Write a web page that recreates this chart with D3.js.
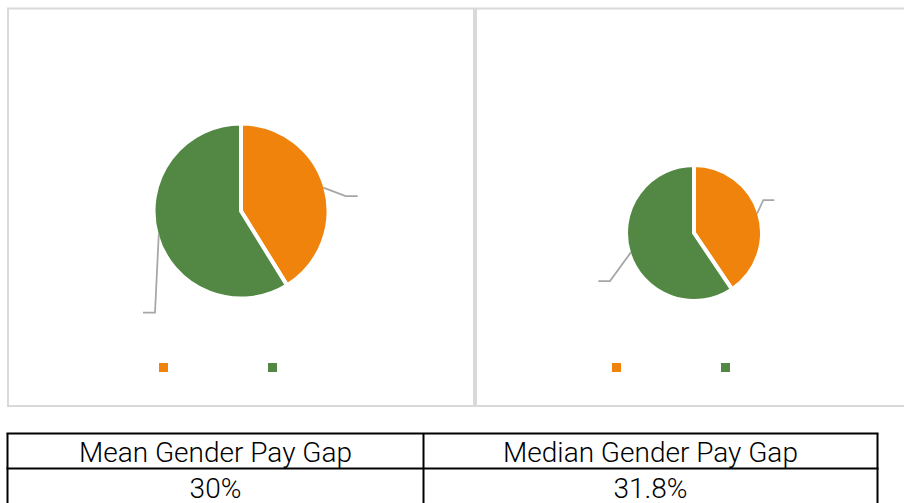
<!DOCTYPE html>
<html>
<head>
<meta charset="utf-8">
<script src="https://cdn.jsdelivr.net/npm/d3@7"></script>
<style>
  html, body { margin: 0; padding: 0; background: #fff; }
  svg { display: block; }
</style>
</head>
<body>
<svg id="chart" width="904" height="503"></svg>
<script>
// pay split per pie (women earn this much per 100 earned by men)
const categories = ['Women', 'Men'];
const meanValues = [70, 100];
const medianValues = [68.2, 100];
const gapLabels = ['Mean Gender Pay Gap', 'Median Gender Pay Gap'];
const gapValues = ['30%', '31.8%'];

const colors = d3.scaleOrdinal().domain(categories).range(['#F0830C', '#528844']);

// where the (empty) data labels sit, relative to pie centre
const labelSpots = [
  [[104.7, -15, 12], [-86, 101.7, -12]],
  [[69.3, -33, 11], [-84, 48, -11.7]]
];

const panels = [
  {x: 8, y: 8.5, w: 466, h: 397.5, cx: 241, cy: 211, r: 85.5, values: meanValues, legendX: 159},
  {x: 476, y: 8.5, w: 440, h: 397.5, cx: 694, cy: 233, r: 66, values: medianValues, legendX: 612}
];

const svg = d3.select('#chart');
const pie = d3.pie().sort(null).value(d => d);

panels.forEach((p, pi) => {
  const g = svg.append('g');

  g.append('rect')
    .attr('x', p.x).attr('y', p.y)
    .attr('width', p.w).attr('height', p.h)
    .attr('fill', '#fff')
    .attr('stroke', '#D9D9D9')
    .attr('stroke-width', 2);

  const arc = d3.arc().innerRadius(0).outerRadius(p.r + 2);
  const edge = d3.arc().innerRadius(p.r).outerRadius(p.r);
  const slices = pie(p.values);

  const pieG = g.append('g').attr('transform', 'translate(' + p.cx + ',' + p.cy + ')');

  pieG.selectAll('path.slice')
    .data(slices)
    .enter()
    .append('path')
    .attr('class', 'slice')
    .attr('d', arc)
    .attr('fill', (d, i) => colors(categories[i]))
    .attr('stroke', '#fff')
    .attr('stroke-width', 4)
    .attr('stroke-linejoin', 'round');

  pieG.selectAll('path.leader')
    .data(slices)
    .enter()
    .append('path')
    .attr('class', 'leader')
    .attr('fill', 'none')
    .attr('stroke', '#A6A6A6')
    .attr('stroke-width', 1.75)
    .attr('d', (d, i) => {
      const s = edge.centroid(d);
      const e = labelSpots[pi][i];
      return 'M' + s[0] + ',' + s[1] + ' L' + e[0] + ',' + e[1] + ' L' + (e[0] + e[2]) + ',' + e[1];
    });

  // legend swatches (legend text is blank in the source)
  g.selectAll('rect.swatch')
    .data(categories)
    .enter()
    .append('rect')
    .attr('class', 'swatch')
    .attr('x', (d, i) => p.legendX + i * 109)
    .attr('y', 363)
    .attr('width', 9)
    .attr('height', 9)
    .attr('fill', d => colors(d));
});

// table under the charts
const tableX = 7.5, tableR = 877.5, colSplit = 423.5;
const rowTop = 433.5, rowMid = 468.5, rowBot = 505;
const cols = [[tableX, colSplit], [colSplit, tableR]];

const tbl = svg.append('g')
  .attr('stroke', '#000')
  .attr('stroke-width', 2);

[rowTop, rowMid, rowBot].forEach(y => {
  tbl.append('line').attr('x1', tableX - 1).attr('x2', tableR + 1).attr('y1', y).attr('y2', y);
});
[tableX, colSplit, tableR].forEach(x => {
  tbl.append('line').attr('x1', x).attr('x2', x).attr('y1', rowTop).attr('y2', rowBot);
});

const txt = svg.append('g')
  .attr('font-family', 'Roboto, "Liberation Sans", sans-serif')
  .attr('font-weight', 300)
  .attr('font-size', 28)
  .attr('fill', '#000')
  .attr('text-anchor', 'middle');

txt.selectAll('text.head')
  .data(gapLabels)
  .enter()
  .append('text')
  .attr('class', 'head')
  .attr('x', (d, i) => (cols[i][0] + cols[i][1]) / 2)
  .attr('y', 462)
  .text(d => d);

txt.selectAll('text.val')
  .data(gapValues)
  .enter()
  .append('text')
  .attr('class', 'val')
  .attr('x', (d, i) => (cols[i][0] + cols[i][1]) / 2)
  .attr('y', 497.5)
  .text(d => d);
</script>
</body>
</html>
